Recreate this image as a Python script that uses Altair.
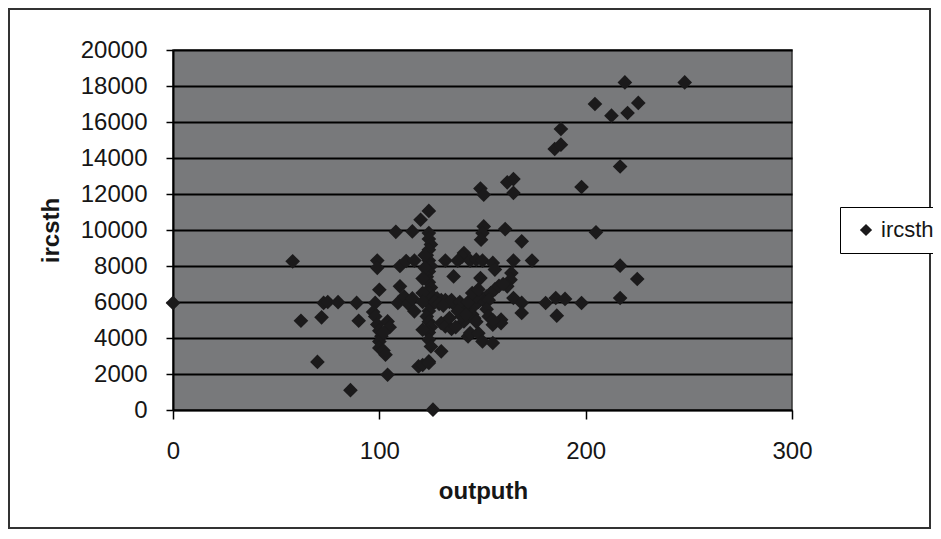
import altair as alt
import pandas as pd

# outputh values
xs = [0, 58, 62, 70, 72, 73, 75, 80, 86, 89, 90, 97, 99, 99, 100, 98, 98, 99, 100, 101,
      100, 100, 102, 103, 104, 104, 105, 102, 108, 110, 110, 109, 112, 114, 113, 116, 117, 116, 117, 120,
      119, 121, 124, 124, 124, 125, 124, 123, 124, 125, 124, 123, 124, 125, 124, 123, 124, 125, 124, 123,
      124, 125, 124, 124, 125, 124, 124, 122, 122, 121, 121, 121, 121, 126, 130, 130, 132, 132, 134, 136,
      135, 141, 140, 138, 144, 147, 150, 143, 144, 141, 148, 150, 155, 149, 149, 150.6, 150.6, 150, 149.3, 155,
      156, 155, 159, 159, 161, 162, 165, 165, 165, 164, 163.6, 162, 165, 169, 169, 169, 174, 180.6, 185.5, 186,
      190, 185, 188, 188, 198, 198, 204.5, 205, 212.5, 216.7, 216.7, 216.7, 219, 220.3, 225.5, 225, 248,
      126, 128, 130, 132, 134, 136, 138, 140, 142, 144, 146, 148, 150, 152, 154, 156, 158, 160, 127, 129,
      131, 135, 139, 143, 147, 151, 153, 145, 146, 147, 152, 153, 155, 140, 138, 137, 142, 145, 148]

# ircsth values
ys = [5950, 8260, 4960, 2670, 5150, 5950, 6000, 5990, 1100, 5950, 4960, 5450, 8300, 7900, 6680, 5950, 5200, 4750, 4400, 4100,
      3800, 3450, 3300, 3070, 1960, 4920, 4600, 4300, 9900, 8000, 6870, 5950, 6300, 5900, 8280, 9920, 8300, 6200, 5480, 10570,
      2420, 2500, 11060, 9830, 9500, 9200, 8900, 8600, 8300, 8000, 7700, 7400, 7100, 6800, 6500, 6300, 6100, 5800, 5500, 5200,
      4900, 4600, 4300, 3900, 3530, 2700, 2610, 8600, 7900, 7300, 6500, 4460, 6000, 20, 3260, 4830, 4650, 8300, 5110, 7420,
      4500, 8720, 8500, 8300, 8300, 8350, 8300, 4090, 4280, 4920, 4270, 3810, 3720, 7330, 12300, 11960, 10200, 9830, 9460, 8170,
      7800, 4740, 4830, 5020, 10050, 12650, 12830, 12060, 8300, 7610, 7240, 6870, 6220, 5950, 5390, 9370, 8300, 5945, 6220, 5240,
      6170, 14500, 14740, 15610, 12390, 5945, 17000, 9870, 16350, 13530, 8020, 6220, 18200, 16500, 17060, 7280, 18200,
      6300, 6200, 6100, 6100, 6000, 5900, 5800, 5700, 5600, 5700, 5800, 6000, 6200, 6300, 6500, 6700, 6900, 7000, 6000, 5900,
      5800, 6100, 6000, 6000, 6300, 6000, 6100, 5300, 5100, 4900, 5600, 5200, 5000, 5200, 5500, 4600, 5300, 6500, 6700]

series_name = "ircsth"
y_ticks = list(range(0, 20001, 2000))
x_ticks = [0, 100, 200, 300]

df = pd.DataFrame({"outputh": xs, "ircsth": ys, "series": [series_name] * len(xs)})

FONT = "Liberation Sans"
TXT = "#161616"

points = alt.Chart(df).mark_point(
    shape="diamond", filled=True, size=215, opacity=1
).encode(
    x=alt.X("outputh:Q",
            scale=alt.Scale(domain=[0, 300], nice=False, zero=True),
            axis=alt.Axis(values=x_ticks, title="outputh", grid=False, format="d",
                          tickSize=9, tickColor="black", tickWidth=1.5,
                          domainColor="black", domainWidth=1.5,
                          labelFontSize=24, labelFont=FONT, labelColor=TXT,
                          labelPadding=20, labelFlush=False,
                          titleFontSize=24, titleFont=FONT, titleFontWeight="bold",
                          titleColor=TXT, titleX=310, titleY=81,
                          titleBaseline="middle", titleAlign="center")),
    y=alt.Y("ircsth:Q",
            scale=alt.Scale(domain=[0, 20000], nice=False),
            axis=alt.Axis(values=y_ticks, title="ircsth", grid=True, format="d",
                          gridColor="black", gridWidth=2, gridOpacity=1,
                          tickSize=7, tickColor="black", tickWidth=1.5,
                          domainColor="black", domainWidth=2,
                          labelFontSize=24, labelFont=FONT, labelColor=TXT,
                          labelPadding=19,
                          titleFontSize=24, titleFont=FONT, titleFontWeight="bold",
                          titleColor=TXT, titleX=-122, titleY=180, titleAngle=270,
                          titleBaseline="middle", titleAlign="center")),
    color=alt.Color("series:N",
                    scale=alt.Scale(range=["#1b1a1b"]),
                    legend=alt.Legend(title=None, orient="none", legendX=667, legendY=157,
                                      symbolType="diamond", symbolSize=150,
                                      symbolStrokeWidth=0, symbolOffset=3,
                                      labelFontSize=22, labelFont=FONT, labelColor=TXT,
                                      labelOffset=4, padding=12,
                                      strokeColor="black", fillColor="white")),
)

frame = alt.Chart(df).mark_rect(
    fill=None, stroke="#333", strokeWidth=1.5
).encode(
    x=alt.value(-164), x2=alt.value(757), y=alt.value(-41), y2=alt.value(478)
)

chart = alt.layer(frame, points).properties(
    width=619, height=360,
    autosize=alt.AutoSizeParams(type="none"),
    padding={"left": 165, "top": 42, "right": 141, "bottom": 121},
    background="white",
).configure_view(
    fill="#78797b", stroke="#333333", strokeWidth=1.5
)

chart.save("out.html", embed_options={"renderer": "svg", "actions": False})
